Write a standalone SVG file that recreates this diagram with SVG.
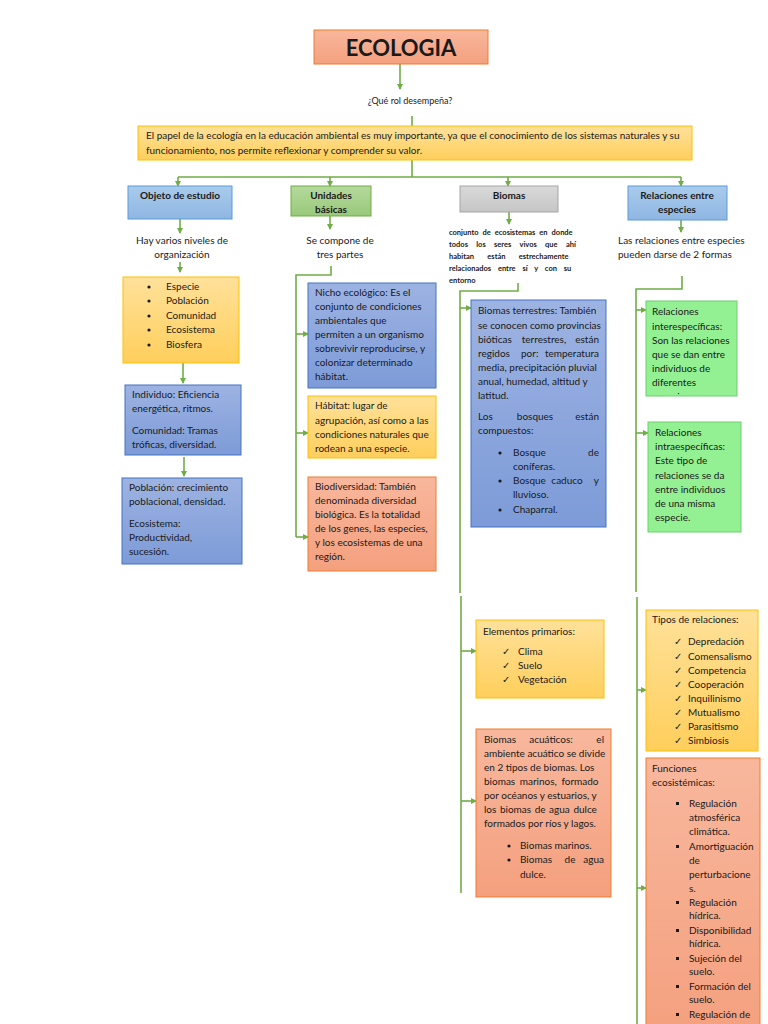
<svg xmlns="http://www.w3.org/2000/svg" width="768" height="1024" viewBox="0 0 768 1024">
<defs>
<style>
text{font-family:Lato,"Open Sans","Liberation Sans",sans-serif;font-size:10px;fill:#1a1a1a}
.b{font-weight:bold}
.c{text-anchor:middle}
.e{text-anchor:end}
.s{font-size:7.5px;font-weight:bold}
.conn{fill:none;stroke:#70ad47;stroke-width:1.6}
.arr{fill:none;stroke:#70ad47;stroke-width:1.6;marker-end:url(#ah)}
.blue{fill:url(#gBlue);stroke:#4472c4;stroke-width:1}
.lblue{fill:url(#gLBlue);stroke:#5b9bd5;stroke-width:1}
.yel{fill:url(#gYel);stroke:#ffc000;stroke-width:1}
.sal{fill:url(#gSal);stroke:#ed7d31;stroke-width:1}
.grn{fill:url(#gGrn);stroke:#70ad47;stroke-width:1}
.lgrn{fill:#93f093;stroke:#6fcf6f;stroke-width:1}
.gry{fill:url(#gGry);stroke:#a5a5a5;stroke-width:1}
</style>
<marker id="ah" markerWidth="6" markerHeight="6" refX="5" refY="3" orient="auto" markerUnits="userSpaceOnUse"><path d="M0,0 L6,3 L0,6 Z" fill="#70ad47"/></marker>
<linearGradient id="gBlue" x1="0" y1="0" x2="0" y2="1"><stop offset="0" stop-color="#9db3e2"/><stop offset="1" stop-color="#7d9bd8"/></linearGradient>
<linearGradient id="gLBlue" x1="0" y1="0" x2="0" y2="1"><stop offset="0" stop-color="#a9cbec"/><stop offset="1" stop-color="#8fb7e3"/></linearGradient>
<linearGradient id="gYel" x1="0" y1="0" x2="0" y2="1"><stop offset="0" stop-color="#ffe19a"/><stop offset="1" stop-color="#ffcf5c"/></linearGradient>
<linearGradient id="gSal" x1="0" y1="0" x2="0" y2="1"><stop offset="0" stop-color="#f8b79d"/><stop offset="1" stop-color="#f4a07e"/></linearGradient>
<linearGradient id="gGrn" x1="0" y1="0" x2="0" y2="1"><stop offset="0" stop-color="#b5d99c"/><stop offset="1" stop-color="#98c97a"/></linearGradient>
<linearGradient id="gGry" x1="0" y1="0" x2="0" y2="1"><stop offset="0" stop-color="#d9d9d9"/><stop offset="1" stop-color="#c6c6c6"/></linearGradient>
<clipPath id="clipInter"><rect x="646" y="301" width="91" height="94"/></clipPath>
</defs>
<rect width="768" height="1024" fill="#ffffff"/>

<g id="connectors">
<path class="arr" d="M400,64 V89"/>
<path class="conn" d="M412,116 V126"/>
<path class="conn" d="M412,160 V177 M178,177 H681"/>
<path class="arr" d="M178,177 V186"/>
<path class="arr" d="M330,177 V186"/>
<path class="arr" d="M508,177 V186"/>
<path class="arr" d="M681,177 V186"/>
<path class="arr" d="M180,219 V233"/>
<path class="arr" d="M180,262 V272"/>
<path class="arr" d="M183,363 V383"/>
<path class="arr" d="M184,457 V476"/>
<path class="arr" d="M330,216 V229"/>
<path class="conn" d="M331,266 V275 H296 V537"/>
<path class="arr" d="M296,334 H308"/>
<path class="arr" d="M296,433 H308"/>
<path class="arr" d="M296,537 H308"/>
<path class="arr" d="M509,212 V224"/>
<path class="conn" d="M518,283 V291 H460 V593"/>
<path class="arr" d="M460,308 H471"/>
<path class="conn" d="M461,596 V893"/>
<path class="arr" d="M461,651 H476"/>
<path class="arr" d="M461,801 H476"/>
<path class="arr" d="M681,220 V232"/>
<path class="conn" d="M682,276 V289 H636 V592"/>
<path class="arr" d="M636,310 H646"/>
<path class="arr" d="M636,433 H648"/>
<path class="conn" d="M637,597 V1024"/>
<path class="arr" d="M637,690 H646"/>
<path class="arr" d="M637,888 H646"/>
</g>

<g id="ecologia">
<rect x="314" y="30" width="174" height="34" class="sal"/>
<text x="401" y="56" class="b c" style="font-size:22px">ECOLOGIA</text>
</g>

<g id="pregunta">
<text x="410" y="104" class="c" style="font-size:9px">¿Qué rol desempeña?</text>
</g>

<g id="papel">
<rect x="138" y="126" width="554" height="34" class="yel"/>
<text x="146" y="139">El papel de la ecología en la educación ambiental es muy importante, ya que el conocimiento de los sistemas naturales y su</text>
<text x="146" y="154">funcionamiento, nos permite reflexionar y comprender su valor.</text>
</g>

<g id="objeto">
<rect x="128" y="186" width="104" height="33" class="lblue"/>
<text x="180" y="199" class="b c">Objeto de estudio</text>
</g>

<g id="unidades">
<rect x="291" y="186" width="80" height="30" class="grn"/>
<text x="331" y="199" class="b c">Unidades</text>
<text x="331" y="213" class="b c">básicas</text>
</g>

<g id="biomas">
<rect x="460" y="186" width="98" height="26" class="gry"/>
<text x="509" y="199" class="b c">Biomas</text>
</g>

<g id="relaciones">
<rect x="628" y="186" width="99" height="34" class="lblue"/>
<text x="677" y="199" class="b c">Relaciones entre</text>
<text x="677" y="213" class="b c">especies</text>
</g>

<g id="niveles">
<text x="182" y="244" class="c">Hay varios niveles de</text>
<text x="182" y="258" class="c">organización</text>
</g>

<g id="lista-niveles">
<rect x="123" y="277" width="116" height="86" class="yel"/>
<circle cx="149" cy="287" r="1.6" fill="#1a1a1a"/><text x="166" y="290">Especie</text>
<circle cx="149" cy="301" r="1.6" fill="#1a1a1a"/><text x="166" y="304">Población</text>
<circle cx="149" cy="316" r="1.6" fill="#1a1a1a"/><text x="166" y="319">Comunidad</text>
<circle cx="149" cy="330" r="1.6" fill="#1a1a1a"/><text x="166" y="333">Ecosistema</text>
<circle cx="149" cy="345" r="1.6" fill="#1a1a1a"/><text x="166" y="348">Biosfera</text>
</g>

<g id="individuo">
<rect x="125" y="385" width="116" height="70" class="blue"/>
<text x="132" y="398">Individuo: Eficiencia</text>
<text x="132" y="412">energética, ritmos.</text>
<text x="132" y="434">Comunidad: Tramas</text>
<text x="132" y="448">tróficas, diversidad.</text>
</g>

<g id="poblacion">
<rect x="122" y="478" width="120" height="86" class="blue"/>
<text x="129" y="491">Población: crecimiento</text>
<text x="129" y="505">poblacional, densidad.</text>
<text x="129" y="527">Ecosistema:</text>
<text x="129" y="541">Productividad,</text>
<text x="129" y="555">sucesión.</text>
</g>

<g id="compone">
<text x="340" y="244" class="c">Se compone de</text>
<text x="340" y="258" class="c">tres partes</text>
</g>

<g id="nicho">
<rect x="308" y="283" width="128" height="105" class="blue"/>
<text x="315" y="296">Nicho ecológico: Es el</text>
<text x="315" y="310">conjunto de condiciones</text>
<text x="315" y="324">ambientales que</text>
<text x="315" y="338">permiten a un organismo</text>
<text x="315" y="352">sobrevivir reproducirse, y</text>
<text x="315" y="366">colonizar determinado</text>
<text x="315" y="380">hábitat.</text>
</g>

<g id="habitat">
<rect x="308" y="396" width="128" height="62" class="yel"/>
<text x="315" y="409">Hábitat: lugar de</text>
<text x="315" y="424">agrupación, así como a las</text>
<text x="315" y="438">condiciones naturales que</text>
<text x="315" y="452">rodean a una especie.</text>
</g>

<g id="biodiversidad">
<rect x="308" y="477" width="128" height="94" class="sal"/>
<text x="315" y="490">Biodiversidad: También</text>
<text x="315" y="504">denominada diversidad</text>
<text x="315" y="518">biológica. Es la totalidad</text>
<text x="315" y="532">de los genes, las especies,</text>
<text x="315" y="546">y los ecosistemas de una</text>
<text x="315" y="560">región.</text>
</g>

<g id="conjunto">
<text x="449" y="235" class="s" style="word-spacing:2.2px">conjunto de ecosistemas en donde</text>
<text x="449" y="247" class="s" style="word-spacing:6.5px">todos los seres vivos que ahí</text>
<text x="449" y="259" class="s" style="word-spacing:11.5px">habitan están estrechamente</text>
<text x="449" y="271" class="s" style="word-spacing:5px">relacionados entre sí y con su</text>
<text x="449" y="283" class="s">entorno</text>
</g>

<g id="terrestres">
<rect x="471" y="300" width="135" height="227" class="blue"/>
<text x="478" y="314">Biomas terrestres: También</text>
<text x="478" y="329">se conocen como provincias</text>
<text x="478" y="343">bióticas</text><text x="544" y="343" class="c">terrestres,</text><text x="599" y="343" class="e">están</text>
<text x="478" y="357">regidos</text><text x="521" y="357">por:</text><text x="599" y="357" class="e">temperatura</text>
<text x="478" y="371">media, precipitación pluvial</text>
<text x="478" y="385">anual, humedad, altitud y</text>
<text x="478" y="399">latitud.</text>
<text x="478" y="420">Los</text><text x="535" y="420" class="c">bosques</text><text x="599" y="420" class="e">están</text>
<text x="478" y="434">compuestos:</text>
<circle cx="500" cy="453" r="1.6" fill="#1a1a1a"/>
<text x="513" y="456">Bosque</text><text x="599" y="456" class="e">de</text>
<text x="513" y="470">coníferas.</text>
<circle cx="500" cy="481" r="1.6" fill="#1a1a1a"/>
<text x="513" y="484">Bosque</text><text x="567" y="484" class="c">caduco</text><text x="599" y="484" class="e">y</text>
<text x="513" y="498">lluvioso.</text>
<circle cx="500" cy="510" r="1.6" fill="#1a1a1a"/>
<text x="513" y="513">Chaparral.</text>
</g>

<g id="elementos">
<rect x="476" y="620" width="128" height="78" class="yel"/>
<text x="483" y="635">Elementos primarios:</text>
<text x="502" y="655">✓</text><text x="518" y="655">Clima</text>
<text x="502" y="669">✓</text><text x="518" y="669">Suelo</text>
<text x="502" y="683">✓</text><text x="518" y="683">Vegetación</text>
</g>

<g id="acuaticos">
<rect x="476" y="729" width="135" height="168" class="sal"/>
<text x="484" y="743">Biomas</text><text x="551" y="743" class="c">acuáticos:</text><text x="604" y="743" class="e">el</text>
<text x="484" y="757">ambiente acuático se divide</text>
<text x="484" y="771">en 2 tipos de biomas. Los</text>
<text x="484" y="785" style="word-spacing:2px">biomas marinos, formado</text>
<text x="484" y="799">por océanos y estuarios, y</text>
<text x="484" y="813" style="word-spacing:1px">los biomas de agua dulce</text>
<text x="484" y="827">formados por ríos y lagos.</text>
<circle cx="509" cy="846" r="1.6" fill="#1a1a1a"/>
<text x="520" y="849">Biomas marinos.</text>
<circle cx="509" cy="860" r="1.6" fill="#1a1a1a"/>
<text x="520" y="863">Biomas</text><text x="570" y="863" class="c">de</text><text x="604" y="863" class="e">agua</text>
<text x="520" y="878">dulce.</text>
</g>

<g id="darse">
<text x="618" y="244">Las relaciones entre especies</text>
<text x="618" y="258">pueden darse de 2 formas</text>
</g>

<g id="interespecificas">
<rect x="646" y="301" width="91" height="95" class="lgrn"/>
<g clip-path="url(#clipInter)">
<text x="652" y="315">Relaciones</text>
<text x="652" y="330">interespecíficas:</text>
<text x="652" y="344">Son las relaciones</text>
<text x="652" y="358">que se dan entre</text>
<text x="652" y="372">individuos de</text>
<text x="652" y="386">diferentes</text>
<text x="652" y="400">especies</text>
</g>
</g>

<g id="intraespecificas">
<rect x="648" y="422" width="93" height="110" class="lgrn"/>
<text x="655" y="436">Relaciones</text>
<text x="655" y="450">intraespecíficas:</text>
<text x="655" y="464">Este tipo de</text>
<text x="655" y="479">relaciones se da</text>
<text x="655" y="493">entre individuos</text>
<text x="655" y="507">de una misma</text>
<text x="655" y="521">especie.</text>
</g>

<g id="tipos">
<rect x="646" y="610" width="112" height="141" class="yel"/>
<text x="652" y="623">Tipos de relaciones:</text>
<text x="674" y="645">✓</text><text x="688" y="645">Depredación</text>
<text x="674" y="660">✓</text><text x="688" y="660">Comensalismo</text>
<text x="674" y="674">✓</text><text x="688" y="674">Competencia</text>
<text x="674" y="688">✓</text><text x="688" y="688">Cooperación</text>
<text x="674" y="702">✓</text><text x="688" y="702">Inquilinismo</text>
<text x="674" y="716">✓</text><text x="688" y="716">Mutualismo</text>
<text x="674" y="730">✓</text><text x="688" y="730">Parasitismo</text>
<text x="674" y="744">✓</text><text x="688" y="744">Simbiosis</text>
</g>

<g id="funciones">
<rect x="646" y="758" width="114" height="280" class="sal"/>
<text x="652" y="772">Funciones</text>
<text x="652" y="786">ecosistémicas:</text>
<rect x="676" y="802" width="3" height="3" fill="#1a1a1a"/>
<text x="689" y="807">Regulación</text>
<text x="689" y="821">atmosférica</text>
<text x="689" y="835">climática.</text>
<rect x="676" y="845" width="3" height="3" fill="#1a1a1a"/>
<text x="689" y="850">Amortiguación</text>
<text x="689" y="864">de</text>
<text x="689" y="878">perturbacione</text>
<text x="689" y="892">s.</text>
<rect x="676" y="901" width="3" height="3" fill="#1a1a1a"/>
<text x="689" y="906">Regulación</text>
<text x="689" y="919">hídrica.</text>
<rect x="676" y="929" width="3" height="3" fill="#1a1a1a"/>
<text x="689" y="934">Disponibilidad</text>
<text x="689" y="947">hídrica.</text>
<rect x="676" y="957" width="3" height="3" fill="#1a1a1a"/>
<text x="689" y="962">Sujeción del</text>
<text x="689" y="975">suelo.</text>
<rect x="676" y="985" width="3" height="3" fill="#1a1a1a"/>
<text x="689" y="990">Formación del</text>
<text x="689" y="1003">suelo.</text>
<rect x="676" y="1013" width="3" height="3" fill="#1a1a1a"/>
<text x="689" y="1018">Regulación de</text>
</g>
</svg>
